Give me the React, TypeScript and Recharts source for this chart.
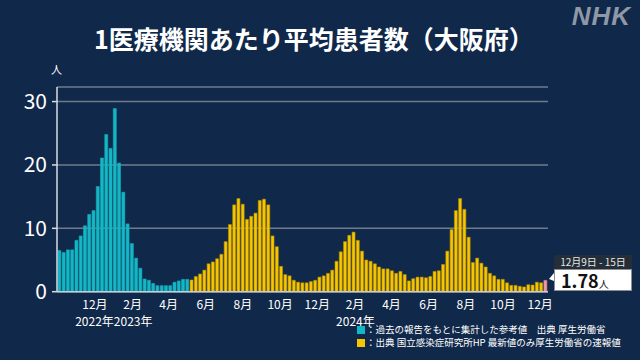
import { BarChart, Bar, XAxis, YAxis, CartesianGrid, Cell } from 'recharts';

// weekly values (Osaka, per medical institution)
// past reference values, weeks starting 2022-10-03 .. 2023-05-01
const pastValues = [
  6.5, 6.2, 6.6, 6.6, 8.1, 8.8, 10.4, 12.2, 12.8, 16.6, 21.1, 24.8, 22.6, 28.9, 20.3, 15.7,
  10.7, 7.6, 5.3, 3.7, 2.0, 1.8, 1.3, 0.95, 0.95, 0.95, 0.95, 1.5, 1.7, 1.95, 1.95,
];
// sentinel surveillance values, weeks starting 2023-05-08 .. 2024-12-02
const currentValues = [
  1.85, 2.4, 2.8, 3.4, 4.4, 4.7, 5.2, 5.9, 7.9, 10.6, 13.7, 14.7, 13.8, 11.4, 11.9, 12.4,
  14.4, 14.6, 13.7, 8.8, 7.1, 4.0, 2.7, 2.5, 1.8, 1.5, 1.4, 1.4, 1.6, 1.8, 2.3, 2.5,
  2.9, 3.4, 4.8, 6.3, 7.9, 8.9, 9.4, 8.1, 6.4, 5.0, 4.8, 4.4, 3.9, 3.6, 3.6, 3.3,
  2.9, 3.2, 2.7, 1.7, 2.05, 2.3, 2.3, 2.2, 2.4, 3.2, 3.3, 4.3, 6.4, 9.8, 12.8, 14.7,
  13.0, 8.6, 4.6, 5.3, 4.5, 3.9, 2.9, 2.5, 1.95, 1.95, 1.4, 1.0, 1.0, 0.85, 0.75, 1.1,
  1.05, 1.5, 1.4,
];
// latest preliminary value, week of 2024-12-09
const latestValue = 1.78;
const latestLabel = '12月9日 - 15日';

const firstWeek = '2022-10-03';
const monthTickDates = [
  '2022-12-01', '2023-02-01', '2023-04-01', '2023-06-01', '2023-08-01', '2023-10-01',
  '2023-12-01', '2024-02-01', '2024-04-01', '2024-06-01', '2024-08-01', '2024-10-01', '2024-12-01',
];
const monthTickLabels = ['12月', '2月', '4月', '6月', '8月', '10月', '12月', '2月', '4月', '6月', '8月', '10月', '12月'];
const yearDates = ['2023-01-01', '2024-01-01'];
const yearLabelsBefore = ['2022年', ''];
const yearLabelsAfter = ['2023年', '2024年'];
const yTicks = [0, 10, 20, 30];
const legendTexts = [
  '：過去の報告をもとに集計した参考値　出典 厚生労働省',
  '：出典 国立感染症研究所HP 最新値のみ厚生労働省の速報値',
];

const toDay = (s: string) => {
  const [y, m, d] = s.split('-').map(Number);
  return Date.UTC(y, m - 1, d) / 86400000;
};

const allValues = [...pastValues, ...currentValues, latestValue];
const startDay = toDay(firstWeek);
const data = allValues.map((v, i) => ({
  t: startDay + i * 7,
  v,
  kind: i < pastValues.length ? 'past' : i < pastValues.length + currentValues.length ? 'current' : 'latest',
}));

const fills: Record<string, string> = { past: '#14b7c6', current: '#f8c600', latest: '#f19aa5' };
const strokes: Record<string, string> = { past: '#14aab8', current: '#b38f00', latest: '#d9808c' };

const monthDays = monthTickDates.map(toDay);
const yearDays = yearDates.map(toDay);
const xTicks = [...monthDays, ...yearDays].sort((a, b) => a - b);
const xDomain = [startDay - 3.3, data[data.length - 1].t + 4.9];

const font = '"Noto Sans CJK JP", "Noto Sans", sans-serif';

const XTick = (props: any) => {
  const { x, y, payload } = props;
  const yi = yearDays.indexOf(payload.value);
  if (yi >= 0) {
    return (
      <g>
        <text x={x} y={y + 34} textAnchor="end" fill="#fff" fontSize={12} fontFamily={font}>
          {yearLabelsBefore[yi]}
        </text>
        <text x={x} y={y + 34} textAnchor="start" fill="#fff" fontSize={12} fontFamily={font}>
          {yearLabelsAfter[yi]}
        </text>
      </g>
    );
  }
  const mi = monthDays.indexOf(payload.value);
  return (
    <text x={x} y={y + 17} textAnchor="middle" fill="#fff" fontSize={12} fontFamily={font}>
      {monthTickLabels[mi]}
    </text>
  );
};

export default function App() {
  return (
    <div
      style={{
        position: 'absolute',
        left: 0,
        top: 0,
        width: 640,
        height: 360,
        background: '#10284a',
        overflow: 'hidden',
        fontFamily: font,
      }}
    >
      <BarChart
        width={640}
        height={360}
        data={data}
        margin={{ top: 87, right: 92, bottom: 28.3, left: 17 }}
      >
        <CartesianGrid vertical={false} stroke="#6f7b8b" strokeWidth={1.5} />
        <XAxis
          dataKey="t"
          type="number"
          domain={xDomain}
          ticks={xTicks}
          interval={0}
          tick={<XTick />}
          tickLine={false}
          tickSize={0}
          tickMargin={0}
          height={40}
          axisLine={{ stroke: '#c9ced6', strokeWidth: 1.5 }}
          allowDataOverflow
        />
        <YAxis
          domain={[0, 32.3]}
          ticks={yTicks}
          width={40}
          tickSize={5}
          tickMargin={5}
          tick={{ fill: '#fff', fontSize: 21, fontFamily: font }}
          tickLine={{ stroke: '#d8dce2', strokeWidth: 1.5 }}
          axisLine={{ stroke: '#d8dce2', strokeWidth: 1.5 }}
        />
        <Bar dataKey="v" barSize={3} isAnimationActive={false}>
          {data.map((d, i) => (
            <Cell key={i} fill={fills[d.kind]} stroke={strokes[d.kind]} strokeWidth={0.6} />
          ))}
        </Bar>
      </BarChart>

      <div
        style={{
          position: 'absolute',
          left: 0,
          top: 22,
          width: 628,
          textAlign: 'center',
          color: '#fff',
          fontSize: 25,
          fontWeight: 'bold',
          lineHeight: '32px',
        }}
      >
        1医療機関あたり平均患者数（大阪府）
      </div>
      <div
        style={{
          position: 'absolute',
          right: 9,
          top: 1,
          color: '#8e98a6',
          fontSize: 26,
          fontWeight: 900,
          fontStyle: 'italic',
          fontFamily: '"Liberation Sans", Arial, sans-serif',
          letterSpacing: 1,
        }}
      >
        NHK
      </div>
      <div style={{ position: 'absolute', left: 51, top: 62, color: '#fff', fontSize: 11, lineHeight: '14px' }}>人</div>

      <div
        style={{
          position: 'absolute',
          left: 357,
          top: 324,
          color: '#fff',
          fontSize: 9.5,
          lineHeight: '11px',
          whiteSpace: 'nowrap',
        }}
      >
        {legendTexts.map((txt, i) => (
          <div key={i} style={{ display: 'flex', alignItems: 'center', marginBottom: 2 }}>
            <span
              style={{
                display: 'inline-block',
                width: 8,
                height: 8,
                background: i === 0 ? fills.past : fills.current,
                marginRight: 1,
              }}
            />
            <span>{txt}</span>
          </div>
        ))}
      </div>

      <div
        style={{
          position: 'absolute',
          left: 554,
          top: 255,
          width: 78,
          height: 14,
          background: '#232e39',
          color: '#e6e6e6',
          fontSize: 10,
          lineHeight: '14px',
          textAlign: 'center',
          whiteSpace: 'nowrap',
        }}
      >
        {latestLabel}
      </div>
      <div
        style={{
          position: 'absolute',
          left: 554,
          top: 269,
          width: 76,
          height: 20,
          background: '#fff',
          border: '1px solid #8a8f96',
          color: '#111',
          lineHeight: '20px',
          whiteSpace: 'nowrap',
        }}
      >
        <span style={{ fontSize: 18, fontWeight: 'bold', marginLeft: 6 }}>{latestValue.toFixed(2)}</span>
        <span style={{ fontSize: 10 }}>人</span>
      </div>
      <svg style={{ position: 'absolute', left: 548, top: 272 }} width={7} height={10}>
        <polygon points="1,7 6,1 6,9" fill="#fff" />
      </svg>
    </div>
  );
}
